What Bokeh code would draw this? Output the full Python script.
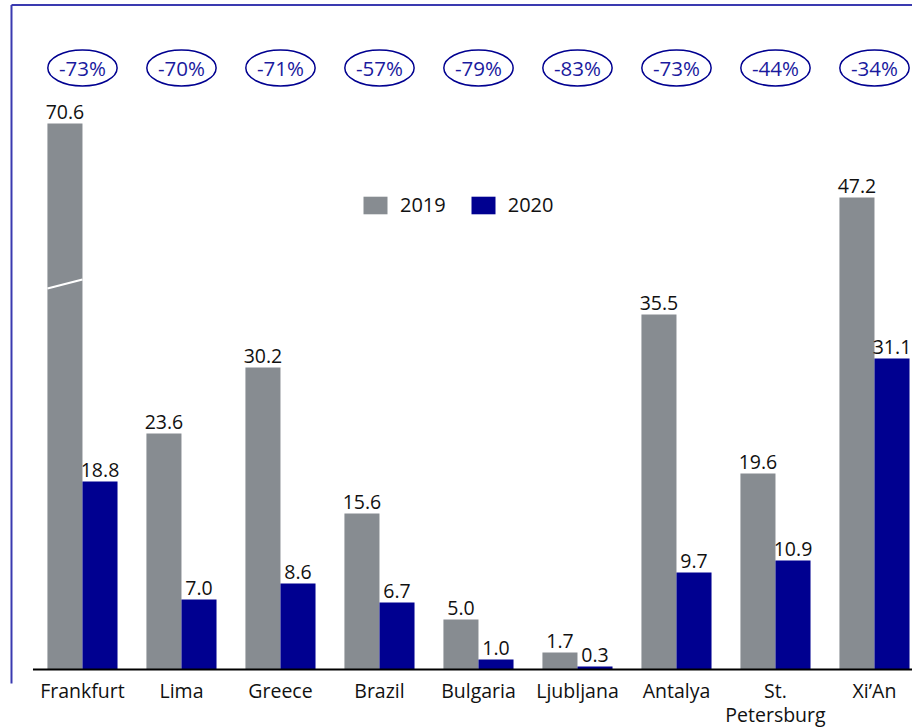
from bokeh.plotting import figure
from bokeh.models import Range1d, ColumnDataSource, Legend, LegendItem
from bokeh.core.properties import value
from bokeh.embed import file_html
from bokeh.resources import INLINE

# ---- data ----
categories = ["Frankfurt", "Lima", "Greece", "Brazil", "Bulgaria", "Ljubljana",
              "Antalya", "St.\nPetersburg", "Xi\u2019An"]
v2019 = [70.6, 23.6, 30.2, 15.6, 5.0, 1.7, 35.5, 19.6, 47.2]
v2020 = [18.8, 7.0, 8.6, 6.7, 1.0, 0.3, 9.7, 10.9, 31.1]
changes = ["-73%", "-70%", "-71%", "-57%", "-79%", "-83%", "-73%", "-44%", "-34%"]
series = ["2019", "2020"]

# ---- style / layout ----
GRAY = "#878c91"
BLUE = "#000090"
FRAME_BLUE = "#3a3ab0"
FONT = "Open Sans"
bar_w = 0.354
cap = 54.6          # display height for the broken (truncated) bar
break_lo, break_hi = 38.1, 39.0
pct_y = 60.15

n = len(categories)
xs = list(range(n))
x_start, x_end = -0.828, 8.384
y_start, y_end = -5.9, 66.9

p = figure(width=912, height=728, x_range=Range1d(x_start, x_end),
           y_range=Range1d(y_start, y_end), output_backend="svg",
           toolbar_location=None, min_border=0,
           x_axis_location=None, y_axis_location=None)
p.grid.visible = False
p.outline_line_color = None
p.background_fill_color = "white"
p.border_fill_color = "white"

# decorative frame (top and left)
p.segment(x0=[-0.717, -0.717], y0=[66.45, 66.45], x1=[x_end, -0.717], y1=[66.45, -1.4],
          line_color=FRAME_BLUE, line_width=2)

src19 = ColumnDataSource(dict(
    x=[i - bar_w / 2 for i in xs],
    top=[min(v, cap) for v in v2019],
    lab=[f"{v:.1f}" for v in v2019]))
src20 = ColumnDataSource(dict(
    x=[i + bar_w / 2 for i in xs],
    top=list(v2020),
    lab=[f"{v:.1f}" for v in v2020]))

r19 = p.vbar(x="x", top="top", bottom=0, width=bar_w, source=src19,
             fill_color=GRAY, line_color=None)
r20 = p.vbar(x="x", top="top", bottom=0, width=bar_w, source=src20,
             fill_color=BLUE, line_color=None)

# break marks on truncated bars
bx0, bx1, by0, by1 = [], [], [], []
for i, v in enumerate(v2019):
    if v > cap:
        bx0.append(i - bar_w)
        bx1.append(i)
        by0.append(break_lo)
        by1.append(break_hi)
p.segment(x0=bx0, y0=by0, x1=bx1, y1=by1, line_color="white", line_width=2)

# baseline
p.segment(x0=[-0.5], y0=[0], x1=[x_end], y1=[0], line_color="black", line_width=2)

# value labels
for src in (src19, src20):
    p.text(x="x", y="top", text="lab", source=src, text_align="center",
           text_baseline="bottom", y_offset=-5, text_font=value(FONT),
           text_font_size="19.5px", text_color="#111111")

# category labels
p.text(x=xs, y=[0] * n, text=categories, text_align="center", text_baseline="top",
       y_offset=7, text_font=value(FONT), text_font_size="19.5px",
       text_color="#111111", text_line_height=0.9)

# change ellipses
p.ellipse(x=xs, y=[pct_y] * n, width=0.70, height=3.6, fill_color=None,
          line_color=BLUE, line_width=1.5)
p.text(x=xs, y=[pct_y] * n, text=changes, text_align="center", text_baseline="middle",
       text_font=value(FONT), text_font_size="20.5px", text_color="#1a1a9e")

legend = Legend(items=[LegendItem(label=series[0], renderers=[r19]),
                       LegendItem(label=series[1], renderers=[r20])],
                orientation="horizontal", location=(360, 510),
                glyph_width=30, glyph_height=22, label_standoff=10, spacing=22,
                padding=0, margin=0, border_line_color=None,
                background_fill_alpha=0, label_text_font=FONT,
                label_text_font_size="20px", label_text_color="#111111")
p.add_layout(legend)

open("out.html", "w").write(file_html(p, INLINE))
